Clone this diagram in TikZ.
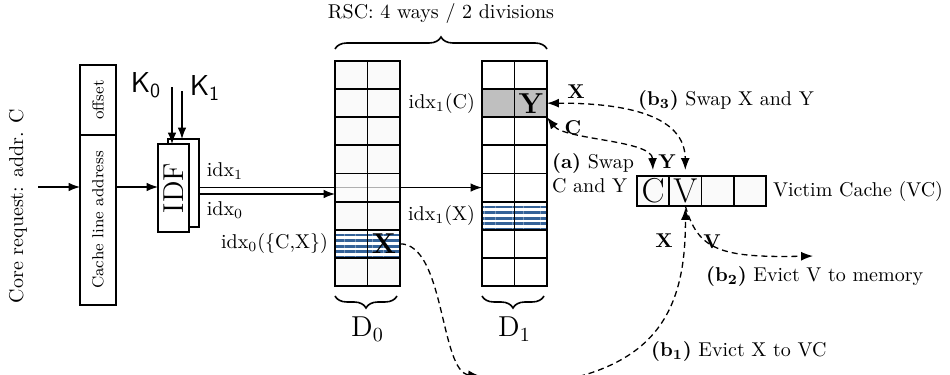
\documentclass[tikz,border=0pt]{standalone}
\usetikzlibrary{arrows.meta,positioning,calc,decorations.pathreplacing,patterns.meta}
\definecolor{stripeblue}{RGB}{52,98,152}

\begin{document}
\begin{tikzpicture}[x=0.5pt,y=-0.5pt,>=Latex,
  box/.style={draw,semithick,outer sep=0pt,inner sep=0pt,minimum width=18pt},
  cell/.style={draw,line width=0.95pt,minimum width=16.25pt,minimum height=14.06pt,inner sep=0pt,outer sep=0pt},
  vcell/.style={cell,fill=gray!4,minimum width=16.1pt,minimum height=15pt},
  stripes/.style={pattern={Lines[angle=0,distance=2.8pt,line width=1.4pt]},pattern color=stripeblue},
  dzero4/.style={fill opacity=0.7},
  dzero6/.style={stripes},
  done1/.style={fill=gray!50},
  done5/.style={stripes},
  dsh/.style={line width=0.65pt,dash pattern=on 3pt off 2pt},
  lbl/.style={font=\bfseries},
  brc/.style={thick,decorate,decoration={brace,amplitude=6pt}},
  brcb/.style={thick,decorate,decoration={brace,mirror,amplitude=6pt}}]
\useasboundingbox (0,0) rectangle (950,375);

% request and address split
\node[rotate=90] (req) at (18,206) {Core request: addr. C};
\coordinate (cin) at (38,187);
\node[box,minimum height=85pt] (cla) at (98,220) {\rotatebox{90}{\footnotesize Cache line address}};
\node[box,minimum height=35pt,above=0pt of cla] (off) {\rotatebox{90}{\footnotesize offset}};
\draw[semithick,->] (cin) -- (cin -| cla.west);

% index derivation function
\node[box,minimum width=15.5pt,minimum height=44pt] (idfb) at (183.5,183) {};
\node[box,fill=white,minimum width=15.5pt,minimum height=44pt] (idf) at (173.5,188) {\rotatebox{90}{\Large IDF}};
\draw[semithick,->] (cla.east |- cin) -- (idf.west |- cin);
\node (k0) at (146,85) {\Large$\mathsf{K_0}$};
\node (k1) at (205,88) {\Large$\mathsf{K_1}$};
\coordinate (k0s) at (172,87);
\coordinate (k1s) at (182,91);
\draw[semithick,->] (k0s) -- (k0s |- idf.north);
\draw[semithick,->] (k1s) -- (k1s |- idfb.north);

% divisions
\foreach \r in {0,...,7}
  \foreach \c in {0,1}
    \node[cell,fill=white,done\r/.try] (d1-\r-\c) at ({498.25+32.5*\c},{75.06+28.125*\r}) {};
\draw[semithick,->] (idfb.east |- d1-4-0.west) -- (d1-4-0.west);
\foreach \r in {0,...,7}
  \foreach \c in {0,1}
    \node[cell,fill=gray!4,dzero\r/.try] (d0-\r-\c) at ({351.25+32.5*\c},{75.06+28.125*\r}) {};
\draw[semithick,->] (idfb.east |- 0,194) -- (d0-4-0.west |- 0,194);
\node (li1) at (225,171) {idx$_1$};
\node (li0) at (225,210) {idx$_0$};

\node[font=\Large\bfseries] (xx) at (d0-6-1) {X};
\node[font=\Large\bfseries] (yy) at (d1-1-1) {Y};
\node[left=0pt of d1-1-0] (ic) {idx$_1$(C)};
\node[left=0pt of d1-5-0] (ix) {idx$_1$(X)};
\node[left=0pt of d0-6-0] (icx) {idx$_0$(\{C,X\})};

% braces
\draw[brc] ([yshift=6pt]d0-0-0.north west) -- ([yshift=6pt]d1-0-1.north east);
\coordinate (bt) at ($(d0-0-0.north west)!0.5!(d1-0-1.north east)$);
\node[above=15pt of bt] (rsc) {RSC: 4 ways / 2 divisions};
\draw[brcb] ([yshift=-5pt]d0-7-0.south west) -- ([yshift=-5pt,xshift=-1.5pt]d0-7-1.south east);
\draw[brcb] ([yshift=-5pt]d1-7-0.south west) -- ([yshift=-5pt,xshift=-1.5pt]d1-7-1.south east);
\node[below=12pt of d0-7-0.south east] (dl0) {\Large D$_0$};
\node[below=12pt of d1-7-0.south east] (dl1) {\Large D$_1$};

% victim cache
\foreach \i in {0,...,3}
  \node[vcell] (vc-\i) at ({653.1+32.25*\i},191) {};
\node[font=\LARGE] (vcc) at (vc-0) {C};
\node[font=\LARGE] (vcv) at (vc-1) {V};
\node[right=0pt of vc-3] (vcl) {Victim Cache (VC)};

% swaps and evictions
\draw[dsh,<->,shorten >=3pt] (d1-1-1.east) .. controls (625,103) and (685,115) .. (vc-1.north);
\draw[dsh,<->,shorten >=3pt] (d1-1-1.south east) .. controls (565,140) and (652,140) .. (vc-0.north);
\coordinate (dip) at (480,376);
\coordinate (rise) at (500,388);
\coordinate (mem) at (813,256);
\draw[dsh,->] (d0-6-1.east) .. controls (445,244) and (440,372) .. (dip);
\draw[dsh,->,shorten >=1pt] (rise) .. controls (650,380) and (686,320) .. (vc-1.south);
\draw[dsh,->] (vc-1.south) .. controls (698,250) and (720,258) .. (mem);

\node[lbl] (lx3) at (576,92) {X};
\node[lbl] (ly3) at (667,162) {Y};
\node[lbl] (lca) at (573,128) {C};
\node[lbl] (lx1) at (664,241) {X};
\node[lbl] (lv2) at (712,242) {V};
\node[anchor=west] (b3) at (631,100) {\textbf{(b\textsubscript{3})} Swap X and Y};
\node[anchor=north west,align=left] (sa) at (545,146) {\textbf{(a)} Swap\\C and Y};
\node[anchor=west] (b2) at (699,276) {\textbf{(b\textsubscript{2})} Evict V to memory};
\node[anchor=west] (b1) at (644,351) {\textbf{(b\textsubscript{1})} Evict X to VC};
\end{tikzpicture}
\end{document}
